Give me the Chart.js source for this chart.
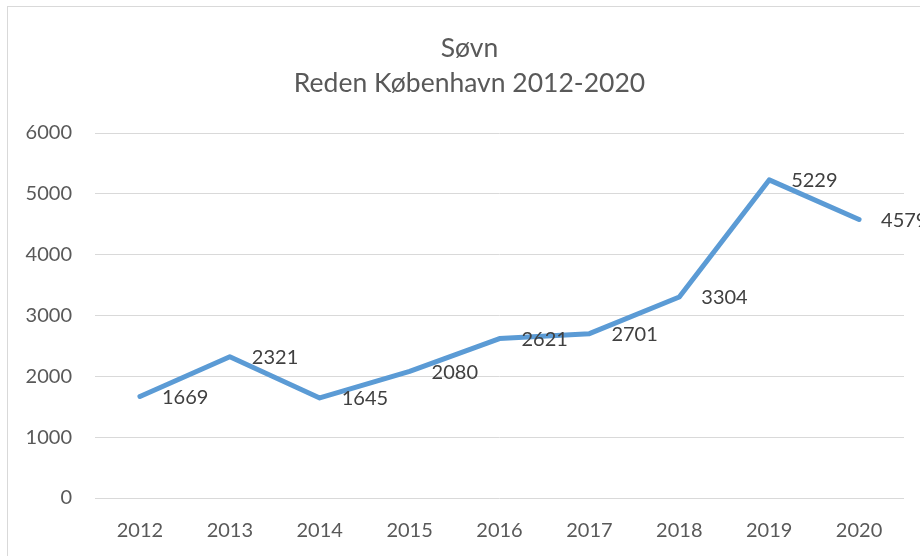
<!doctype html>
<html>
<head>
    <meta charset="utf-8">
    <title>Søvn - Reden København 2012-2020</title>
    <script src="https://cdn.jsdelivr.net/npm/chart.js"></script>
    <style>
        html, body { margin: 0; padding: 0; overflow: hidden; background: #fff; }
        #box {
            position: absolute; left: 7px; top: 6px;
            width: 923px; height: 560px;
            border-left: 1px solid #d9d9d9; border-top: 1px solid #d9d9d9;
        }
        #myChart { position: absolute; left: 0; top: 0; }
    </style>
</head>
<body>
    <div id="box">
        <canvas id="myChart" width="923" height="549"></canvas>
    </div>

    <script>
        // data
        var years = ['2012', '2013', '2014', '2015', '2016', '2017', '2018', '2019', '2020'];
        var sleepCounts = [1669, 2321, 1645, 2080, 2621, 2701, 3304, 5229, 4579];
        var titleLines = ['Søvn', 'Reden København 2012-2020'];

        var FONT = 'Lato, "Open Sans", sans-serif';

        // simple value labels to the right of each point (like Excel's "Right" position)
        var valueLabels = {
            id: 'valueLabels',
            afterDatasetsDraw: function (chart) {
                var ctx = chart.ctx;
                var meta = chart.getDatasetMeta(0);
                ctx.save();
                ctx.font = '20px ' + FONT;
                ctx.fillStyle = '#404040';
                ctx.textAlign = 'left';
                ctx.textBaseline = 'middle';
                meta.data.forEach(function (pt, i) {
                    ctx.fillText(String(sleepCounts[i]), pt.x + 22, pt.y + 1);
                });
                ctx.restore();
            }
        };

        var ctx = document.getElementById('myChart').getContext('2d');
        var chart = new Chart(ctx, {
            type: 'line',
            data: {
                labels: years,
                datasets: [{
                    label: 'Søvn',
                    data: sleepCounts,
                    borderColor: '#5B9BD5',
                    borderWidth: 5,
                    borderCapStyle: 'round',
                    borderJoinStyle: 'round',
                    pointRadius: 0,
                    tension: 0,
                    fill: false
                }]
            },
            plugins: [valueLabels],
            options: {
                responsive: false,
                animation: false,
                layout: { padding: 0 },
                plugins: {
                    legend: { display: false },
                    tooltip: { enabled: false },
                    title: {
                        display: true,
                        text: titleLines,
                        color: '#595959',
                        font: { family: FONT, size: 26.5, weight: 'normal', lineHeight: '35px' },
                        padding: { top: 24, bottom: 32 }
                    }
                },
                scales: {
                    x: {
                        offset: true,
                        grid: { display: false },
                        border: { display: false },
                        ticks: {
                            color: '#595959',
                            font: { family: FONT, size: 20 },
                            padding: 13,
                            maxRotation: 0
                        },
                        afterFit: function (scale) { scale.height = 58; }
                    },
                    y: {
                        min: 0,
                        max: 6000,
                        grid: { color: '#d9d9d9', lineWidth: 1, drawTicks: false },
                        border: { display: false },
                        ticks: {
                            stepSize: 1000,
                            color: '#595959',
                            font: { family: FONT, size: 20 },
                            padding: 23,
                            callback: function (v) { return String(v); }
                        },
                        afterFit: function (scale) { scale.width = 87; }
                    },
                    // empty strip on the right so the plot ends before the frame does
                    yRight: {
                        position: 'right',
                        min: 0,
                        max: 6000,
                        grid: { display: false },
                        border: { display: false },
                        ticks: { display: false },
                        afterFit: function (scale) { scale.width = 27; }
                    }
                }
            }
        });
    </script>
</body>
</html>
